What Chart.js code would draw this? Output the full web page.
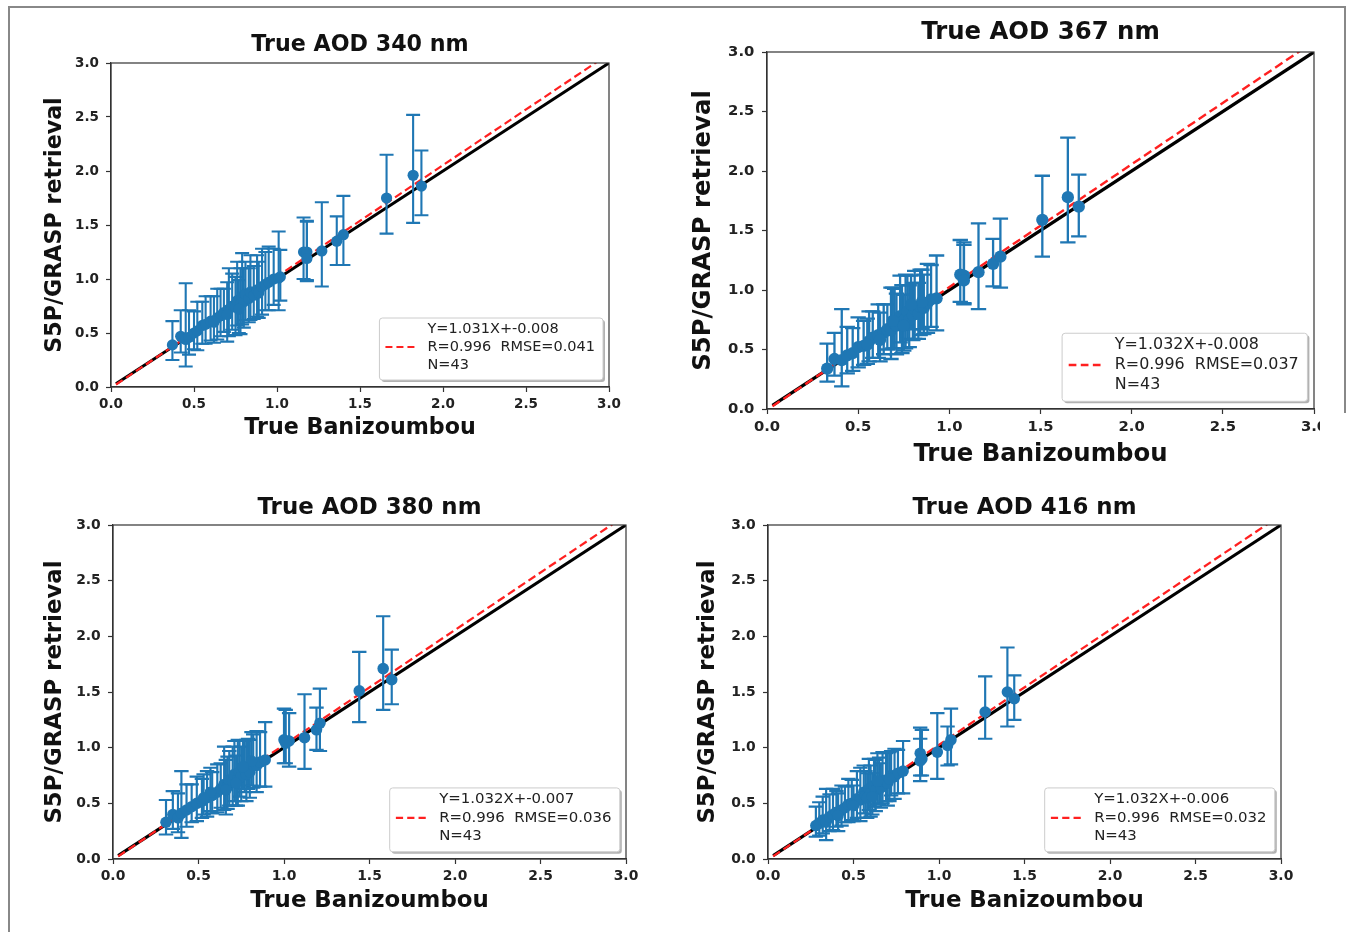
<!DOCTYPE html>
<html>
<head>
<meta charset="utf-8">
<script src="https://cdn.jsdelivr.net/npm/chart.js@4.4.0/dist/chart.umd.min.js"></script>
<style>
  body { margin: 0; background: #fff; width: 1356px; height: 932px; position: relative; overflow: hidden; }
  canvas { position: absolute; }
  .edge { position: absolute; background: #888; }
  #patch { position: absolute; left: 1320px; top: 413px; width: 36px; height: 40px; background: #fff; }
</style>
</head>
<body>
<div class="edge" style="left:8px;top:6px;width:1.5px;height:930px"></div>
<div class="edge" style="left:8px;top:6px;width:1337px;height:1.5px"></div>
<div class="edge" style="left:1344px;top:6px;width:1.5px;height:407px"></div>

<script>
Chart.defaults.font.family = '"DejaVu Sans", sans-serif'
Chart.defaults.color = '#111'

// values
const wavelengths = [340, 367, 380, 416]
const slopes = [1.031, 1.032, 1.032, 1.032]
const intercepts = [-0.008, -0.008, -0.007, -0.006]
const rValues = [0.996, 0.996, 0.996, 0.996]
const rmseValues = [0.041, 0.037, 0.036, 0.032]
const counts = [43, 43, 43, 43]
const axisTicks = [0.0, 0.5, 1.0, 1.5, 2.0, 2.5, 3.0]
const lineRangeX = [0.03, 3.0]

const x340 = [0.37,0.42,0.45,0.47,0.50,0.52,0.55,0.57,0.60,0.64,0.66,0.68,0.71,0.73,0.75,0.76,0.78,0.79,0.80,0.81,0.83,0.84,0.86,0.88,0.89,0.91,0.93,0.95,0.98,1.01,1.02,0.62,0.70,1.16,1.18,1.18,1.27,1.36,1.40,1.66,1.82,1.87,0.77]
const y340 = [0.39,0.47,0.44,0.46,0.50,0.52,0.57,0.58,0.61,0.64,0.66,0.69,0.72,0.75,0.74,0.80,0.77,0.84,0.79,0.86,0.82,0.88,0.85,0.90,0.87,0.93,0.95,0.97,1.00,1.01,1.02,0.60,0.67,1.25,1.25,1.19,1.26,1.35,1.41,1.75,1.96,1.86,0.72]
const up340 = [0.22,0.24,0.52,0.25,0.20,0.27,0.22,0.26,0.23,0.27,0.25,0.22,0.38,0.30,0.28,0.36,0.33,0.40,0.31,0.30,0.28,0.34,0.27,0.32,0.29,0.35,0.30,0.33,0.28,0.43,0.25,0.24,0.30,0.32,0.28,0.35,0.45,0.23,0.36,0.40,0.56,0.33,0.27]
const dn340 = [0.14,0.15,0.25,0.16,0.15,0.18,0.17,0.18,0.18,0.20,0.19,0.18,0.25,0.22,0.26,0.23,0.28,0.26,0.24,0.24,0.22,0.26,0.22,0.25,0.23,0.26,0.24,0.26,0.24,0.30,0.22,0.19,0.25,0.25,0.27,0.20,0.33,0.22,0.28,0.33,0.44,0.27,0.22]

const x367 = [0.33,0.37,0.41,0.44,0.47,0.50,0.53,0.56,0.58,0.61,0.64,0.66,0.68,0.70,0.71,0.73,0.74,0.76,0.77,0.78,0.80,0.81,0.83,0.84,0.86,0.88,0.90,0.93,0.62,0.69,0.75,0.85,1.06,1.08,1.08,1.16,1.24,1.28,1.51,1.65,1.71,0.79,0.55]
const y367 = [0.34,0.42,0.41,0.45,0.47,0.52,0.53,0.57,0.60,0.62,0.64,0.67,0.66,0.72,0.70,0.78,0.73,0.76,0.82,0.75,0.79,0.84,0.80,0.86,0.85,0.89,0.92,0.93,0.58,0.74,0.70,0.90,1.13,1.12,1.08,1.15,1.22,1.28,1.59,1.78,1.70,0.88,0.54]
const up367 = [0.21,0.22,0.43,0.24,0.21,0.25,0.21,0.25,0.22,0.26,0.24,0.21,0.36,0.29,0.27,0.34,0.31,0.37,0.30,0.29,0.27,0.32,0.26,0.31,0.28,0.33,0.29,0.36,0.23,0.28,0.26,0.27,0.29,0.26,0.32,0.41,0.21,0.32,0.37,0.50,0.27,0.24,0.22]
const dn367 = [0.11,0.14,0.22,0.15,0.15,0.17,0.16,0.17,0.17,0.19,0.18,0.17,0.24,0.21,0.24,0.22,0.26,0.25,0.23,0.23,0.21,0.25,0.21,0.24,0.22,0.25,0.23,0.27,0.18,0.23,0.21,0.23,0.23,0.24,0.19,0.31,0.19,0.26,0.31,0.38,0.25,0.21,0.16]

const x380 = [0.31,0.35,0.38,0.40,0.43,0.46,0.49,0.52,0.55,0.58,0.61,0.63,0.65,0.67,0.68,0.70,0.71,0.73,0.74,0.75,0.77,0.78,0.79,0.80,0.82,0.84,0.86,0.89,0.57,0.66,0.72,0.81,1.00,1.03,1.01,1.12,1.19,1.21,1.44,1.58,1.63,0.76,0.53]
const y380 = [0.33,0.40,0.37,0.41,0.44,0.47,0.50,0.52,0.55,0.57,0.60,0.63,0.67,0.65,0.71,0.69,0.76,0.72,0.78,0.74,0.80,0.76,0.83,0.78,0.85,0.84,0.87,0.89,0.60,0.62,0.68,0.88,1.07,1.06,1.04,1.09,1.16,1.22,1.51,1.71,1.61,0.83,0.55]
const up380 = [0.20,0.21,0.22,0.38,0.23,0.20,0.24,0.20,0.24,0.21,0.25,0.23,0.34,0.27,0.26,0.32,0.30,0.35,0.28,0.27,0.26,0.31,0.25,0.29,0.27,0.31,0.27,0.34,0.22,0.27,0.25,0.26,0.28,0.25,0.30,0.39,0.20,0.31,0.35,0.47,0.27,0.23,0.21]
const dn380 = [0.11,0.13,0.13,0.22,0.15,0.14,0.16,0.15,0.17,0.16,0.18,0.17,0.23,0.20,0.23,0.21,0.24,0.24,0.22,0.22,0.20,0.24,0.20,0.23,0.21,0.24,0.22,0.24,0.17,0.22,0.20,0.22,0.21,0.23,0.18,0.28,0.18,0.25,0.28,0.37,0.22,0.20,0.15]

const x416 = [0.28,0.30,0.32,0.34,0.36,0.38,0.40,0.43,0.45,0.47,0.49,0.52,0.54,0.56,0.57,0.59,0.60,0.62,0.63,0.65,0.66,0.67,0.69,0.70,0.72,0.74,0.76,0.79,0.50,0.58,0.64,0.71,0.89,0.90,0.89,0.99,1.05,1.07,1.27,1.40,1.44,0.61,0.41]
const y416 = [0.30,0.32,0.35,0.33,0.38,0.40,0.42,0.44,0.46,0.49,0.50,0.54,0.53,0.60,0.57,0.63,0.59,0.66,0.62,0.68,0.64,0.70,0.71,0.68,0.75,0.74,0.77,0.79,0.48,0.55,0.70,0.72,0.95,0.90,0.88,0.96,1.02,1.07,1.32,1.50,1.44,0.56,0.39]
const up416 = [0.17,0.19,0.21,0.30,0.20,0.23,0.19,0.22,0.19,0.23,0.21,0.25,0.29,0.24,0.22,0.27,0.25,0.24,0.27,0.23,0.22,0.26,0.24,0.28,0.22,0.25,0.21,0.27,0.18,0.22,0.25,0.24,0.23,0.26,0.20,0.35,0.17,0.28,0.32,0.40,0.21,0.21,0.20]
const dn416 = [0.10,0.11,0.12,0.16,0.13,0.14,0.13,0.14,0.13,0.16,0.15,0.17,0.19,0.19,0.20,0.19,0.21,0.19,0.19,0.19,0.18,0.20,0.19,0.20,0.18,0.20,0.18,0.20,0.14,0.18,0.21,0.20,0.20,0.15,0.18,0.24,0.18,0.22,0.24,0.31,0.19,0.16,0.14]

// where each panel sits on the page (plot box l, t, r, b) and its size factor
const layout = [
    { area: [111, 63, 609, 387], titleY: 45, xLabelY: 428, yLabelX: 55, s: 1.0 },
    { area: [767, 52, 1314, 409], titleY: 33, xLabelY: 455, yLabelX: 704, s: 1.098 },
    { area: [113, 525, 626, 859], titleY: 508, xLabelY: 901, yLabelX: 55, s: 1.03 },
    { area: [768, 525, 1281, 859], titleY: 508, xLabelY: 901, yLabelX: 708, s: 1.03 }
]

const blue = '#1f77b4'

const renderPanel = (i, xs, ys, up, dn) => {
    const p = layout[i]
    const [l, t, r, b] = p.area
    const s = p.s
    const big = 22.2 * s
    const lh = big * 1.2
    const left = l - 100, top = p.titleY - 30, right = r + 30, bottom = p.xLabelY + 25

    const canvas = document.createElement('canvas')
    canvas.width = right - left
    canvas.height = bottom - top
    canvas.style.left = left + 'px'
    canvas.style.top = top + 'px'
    document.body.appendChild(canvas)

    const points = xs.map((x, k) => ({ x, y: ys[k] }))
    const oneToOne = lineRangeX.map(v => ({ x: v, y: v }))
    const fitLine = lineRangeX.map(v => ({ x: v, y: slopes[i] * v + intercepts[i] }))

    const errorBars = {
        id: 'errorBars',
        beforeDatasetDraw(chart, args) {
            if (args.index !== 0) return
            const { x: sx, y: sy } = chart.scales
            const ctx = chart.ctx
            const cap = 7 * s
            ctx.save()
            ctx.strokeStyle = blue
            ctx.lineWidth = 2.1 * s
            points.forEach((pt, k) => {
                const px = sx.getPixelForValue(pt.x)
                const hi = sy.getPixelForValue(pt.y + up[k])
                const lo = sy.getPixelForValue(pt.y - dn[k])
                ctx.beginPath()
                ctx.moveTo(px, hi); ctx.lineTo(px, lo)
                ctx.moveTo(px - cap, hi); ctx.lineTo(px + cap, hi)
                ctx.moveTo(px - cap, lo); ctx.lineTo(px + cap, lo)
                ctx.stroke()
            })
            ctx.restore()
        }
    }

    const frame = {
        id: 'frame',
        afterDatasetsDraw(chart) {
            const ca = chart.chartArea
            const ctx = chart.ctx
            ctx.save()
            ctx.strokeStyle = '#333'
            ctx.lineWidth = 1.2
            ctx.strokeRect(ca.left, ca.top, ca.right - ca.left, ca.bottom - ca.top)
            ctx.restore()
        }
    }

    const fitBox = {
        id: 'fitBox',
        afterDraw(chart) {
            const ca = chart.chartArea
            const ctx = chart.ctx
            const size = 14.5 * s
            const rowH = 18 * s
            const lines = [
                `Y=${slopes[i].toFixed(3)}X+${intercepts[i].toFixed(3)}`,
                `R=${rValues[i].toFixed(3)}  RMSE=${rmseValues[i].toFixed(3)}`,
                `N=${counts[i]}`
            ]
            ctx.save()
            ctx.font = `${size}px "DejaVu Sans"`
            const tw = Math.max(...lines.map(txt => ctx.measureText(txt).width))
            const w = 48 * s + tw + 8 * s
            const h = rowH * 3 + 8 * s
            const x1 = ca.right - 6 * s - w
            const y1 = ca.bottom - 7 * s - h
            ctx.fillStyle = 'rgba(0,0,0,0.3)'
            ctx.beginPath(); ctx.roundRect(x1 + 2, y1 + 2, w, h, 3); ctx.fill()
            ctx.fillStyle = '#fff'
            ctx.strokeStyle = '#ccc'
            ctx.lineWidth = 1
            ctx.beginPath(); ctx.roundRect(x1, y1, w, h, 3); ctx.fill(); ctx.stroke()
            const rowY = k => y1 + 2 * s + rowH * (k + 0.5)
            ctx.strokeStyle = '#ff2020'
            ctx.lineWidth = 2.2 * s
            ctx.setLineDash([7 * s, 4 * s])
            ctx.beginPath(); ctx.moveTo(x1 + 6 * s, rowY(1)); ctx.lineTo(x1 + 36 * s, rowY(1)); ctx.stroke()
            ctx.setLineDash([])
            ctx.fillStyle = '#222'
            ctx.textBaseline = 'middle'
            ctx.textAlign = 'left'
            lines.forEach((txt, k) => ctx.fillText(txt, x1 + 48 * s, rowY(k)))
            ctx.restore()
        }
    }

    const axis = (fit, titleText, titlePad, tickPad) => ({
        type: 'linear',
        min: axisTicks[0],
        max: axisTicks[axisTicks.length - 1],
        afterFit: fit,
        afterBuildTicks: sc => { sc.ticks = axisTicks.map(v => ({ value: v })) },
        ticks: {
            font: { size: 13.5 * s, weight: 'bold' },
            color: '#222',
            padding: tickPad,
            callback: v => v.toFixed(1)
        },
        grid: { display: true, drawOnChartArea: false, drawTicks: true, tickLength: 5, color: '#333', tickWidth: 1.2 },
        border: { display: true, color: '#333', width: 1.2 },
        title: { display: true, text: titleText, font: { size: big, weight: 'bold', lineHeight: 1.2 }, color: '#111', padding: titlePad }
    })

    new Chart(canvas, {
        type: 'scatter',
        data: {
            datasets: [
                { data: points, pointRadius: 5.6 * s, pointBackgroundColor: blue, pointBorderWidth: 0, pointHoverRadius: 5.6 * s },
                { data: fitLine, showLine: true, borderColor: '#ff2020', borderWidth: 2.2 * s, borderDash: [8 * s, 4 * s], pointRadius: 0, clip: 0 },
                { data: oneToOne, showLine: true, borderColor: '#000', borderWidth: 3 * s, pointRadius: 0, clip: 0 }
            ]
        },
        options: {
            responsive: false,
            animation: false,
            events: [],
            layout: { padding: { left: 0, top: 0, bottom: 0, right: right - r } },
            plugins: {
                legend: { display: false },
                tooltip: { enabled: false },
                title: {
                    display: true,
                    text: `True AOD ${wavelengths[i]} nm`,
                    fullSize: false,
                    color: '#111',
                    font: { size: big, weight: 'bold', lineHeight: 1.2 },
                    padding: { top: 30 - lh / 2, bottom: (t - top) - (30 - lh / 2) - lh }
                }
            },
            scales: {
                x: axis(sc => { sc.height = bottom - b }, 'True Banizoumbou', { top: 0, bottom: 25 - lh / 2 }, 4 * s),
                y: axis(sc => { sc.width = l - left }, 'S5P/GRASP retrieval', { top: p.yLabelX - left - lh / 2, bottom: 0 }, 7 * s)
            }
        },
        plugins: [errorBars, frame, fitBox]
    })
}

renderPanel(0, x340, y340, up340, dn340)
renderPanel(1, x367, y367, up367, dn367)
renderPanel(2, x380, y380, up380, dn380)
renderPanel(3, x416, y416, up416, dn416)

const patch = document.createElement('div')
patch.id = 'patch'
document.body.appendChild(patch)
</script>
</body>
</html>
